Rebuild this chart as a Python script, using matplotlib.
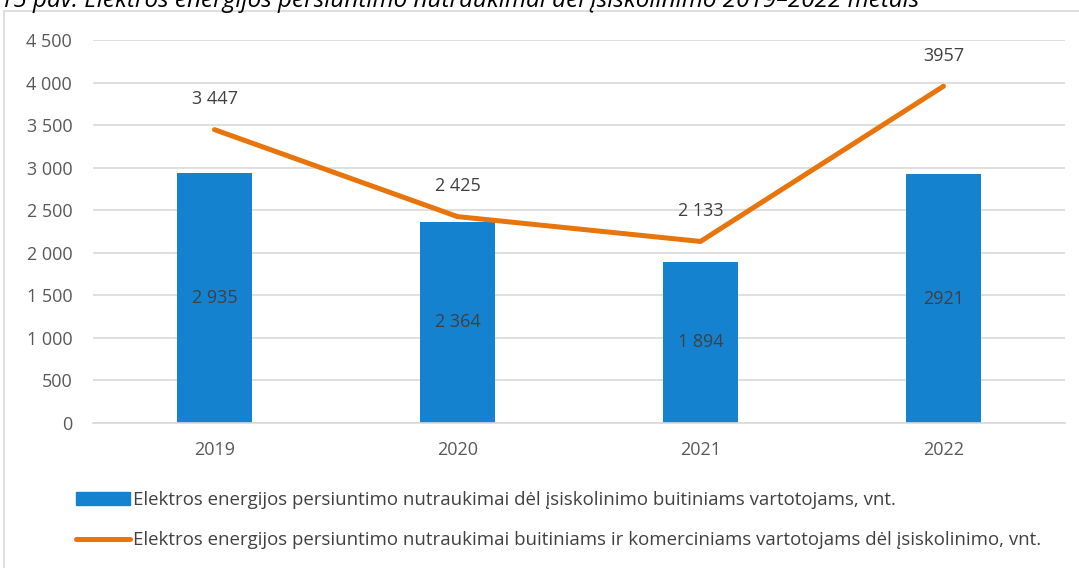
import numpy as np
import matplotlib.pyplot as plt
from matplotlib.patches import Rectangle, Patch
from matplotlib.lines import Line2D

plt.rcParams['font.family'] = ['Open Sans', 'DejaVu Sans']

# data
years = ['2019', '2020', '2021', '2022']
household = [2935, 2364, 1894, 2921]
household_labels = ['2 935', '2 364', '1 894', '2921']
all_consumers = [3447, 2425, 2133, 3957]
all_labels = ['3 447', '2 425', '2 133', '3957']
y_ticks = [0, 500, 1000, 1500, 2000, 2500, 3000, 3500, 4000, 4500]
y_tick_labels = ['0', '500', '1 000', '1 500', '2 000', '2 500', '3 000', '3 500', '4 000', '4 500']

legend_bar = 'Elektros energijos persiuntimo nutraukimai dėl įsiskolinimo buitiniams vartotojams, vnt.'
legend_line = 'Elektros energijos persiuntimo nutraukimai buitiniams ir komerciniams vartotojams dėl įsiskolinimo, vnt.'
title = '15 pav. Elektros energijos persiuntimo nutraukimai dėl įsiskolinimo 2019–2022 metais'

bar_color = '#1582D0'
line_color = '#E8740C'
text_color = '#404040'

fig = plt.figure(figsize=(10.79, 5.68), dpi=100)

# chart frame (light gray border)
fig.patches.append(Rectangle((4 / 1079, -0.01), 1.02, 1 - 11 / 568 + 0.01,
                             transform=fig.transFigure, fill=False,
                             edgecolor='#D9D9D9', linewidth=1.2))

# caption above the chart, cut off at the top edge as in the source
fig.text(0.0, 1 - 1 / 568, title, fontsize=17.5, style='italic', color='black',
         ha='left', va='center')

ax = fig.add_axes([93 / 1079, 1 - 423 / 568, (1065 - 93) / 1079, (423 - 40) / 568])
x = np.arange(len(years))

ax.bar(x, household, width=0.31, color=bar_color, zorder=2)
ax.plot(x, all_consumers, color=line_color, linewidth=3.6,
        solid_capstyle='round', solid_joinstyle='round', zorder=3)

for xi, v, lab in zip(x, household, household_labels):
    ax.text(xi, v / 2, lab, ha='center', va='center', fontsize=13, color=text_color, zorder=4)
for xi, v, lab in zip(x, all_consumers, all_labels):
    ax.annotate(lab, (xi, v), xytext=(0, 22), textcoords='offset points',
                ha='center', va='center', fontsize=13, color=text_color)

ax.set_xlim(-0.5, len(years) - 0.5)
ax.set_ylim(0, 4500)
ax.set_yticks(y_ticks)
ax.set_yticklabels(y_tick_labels)
ax.set_xticks(x)
ax.set_xticklabels(years)
ax.tick_params(axis='both', length=0, labelsize=13, colors='#595959')
ax.tick_params(axis='y', pad=15)
ax.tick_params(axis='x', pad=13)
ax.grid(axis='y', color='#D9D9D9', linewidth=1.2, zorder=0)
ax.set_axisbelow(True)
for s in ['top', 'right', 'left']:
    ax.spines[s].set_visible(False)
ax.spines['bottom'].set_color('#D9D9D9')
ax.spines['bottom'].set_linewidth(1.2)

# legend
handles = [Patch(color=bar_color),
           Line2D([0], [0], color=line_color, linewidth=3.6, solid_capstyle='round')]
fig.legend(handles, [legend_bar, legend_line], loc='upper left',
           bbox_to_anchor=(76 / 1079, 1 - 491 / 568), frameon=False,
           fontsize=13.4, labelcolor=text_color, handlelength=2.9,
           handletextpad=0.15, labelspacing=1.2, borderaxespad=0, borderpad=0)

fig.savefig('out.png', dpi=100)
